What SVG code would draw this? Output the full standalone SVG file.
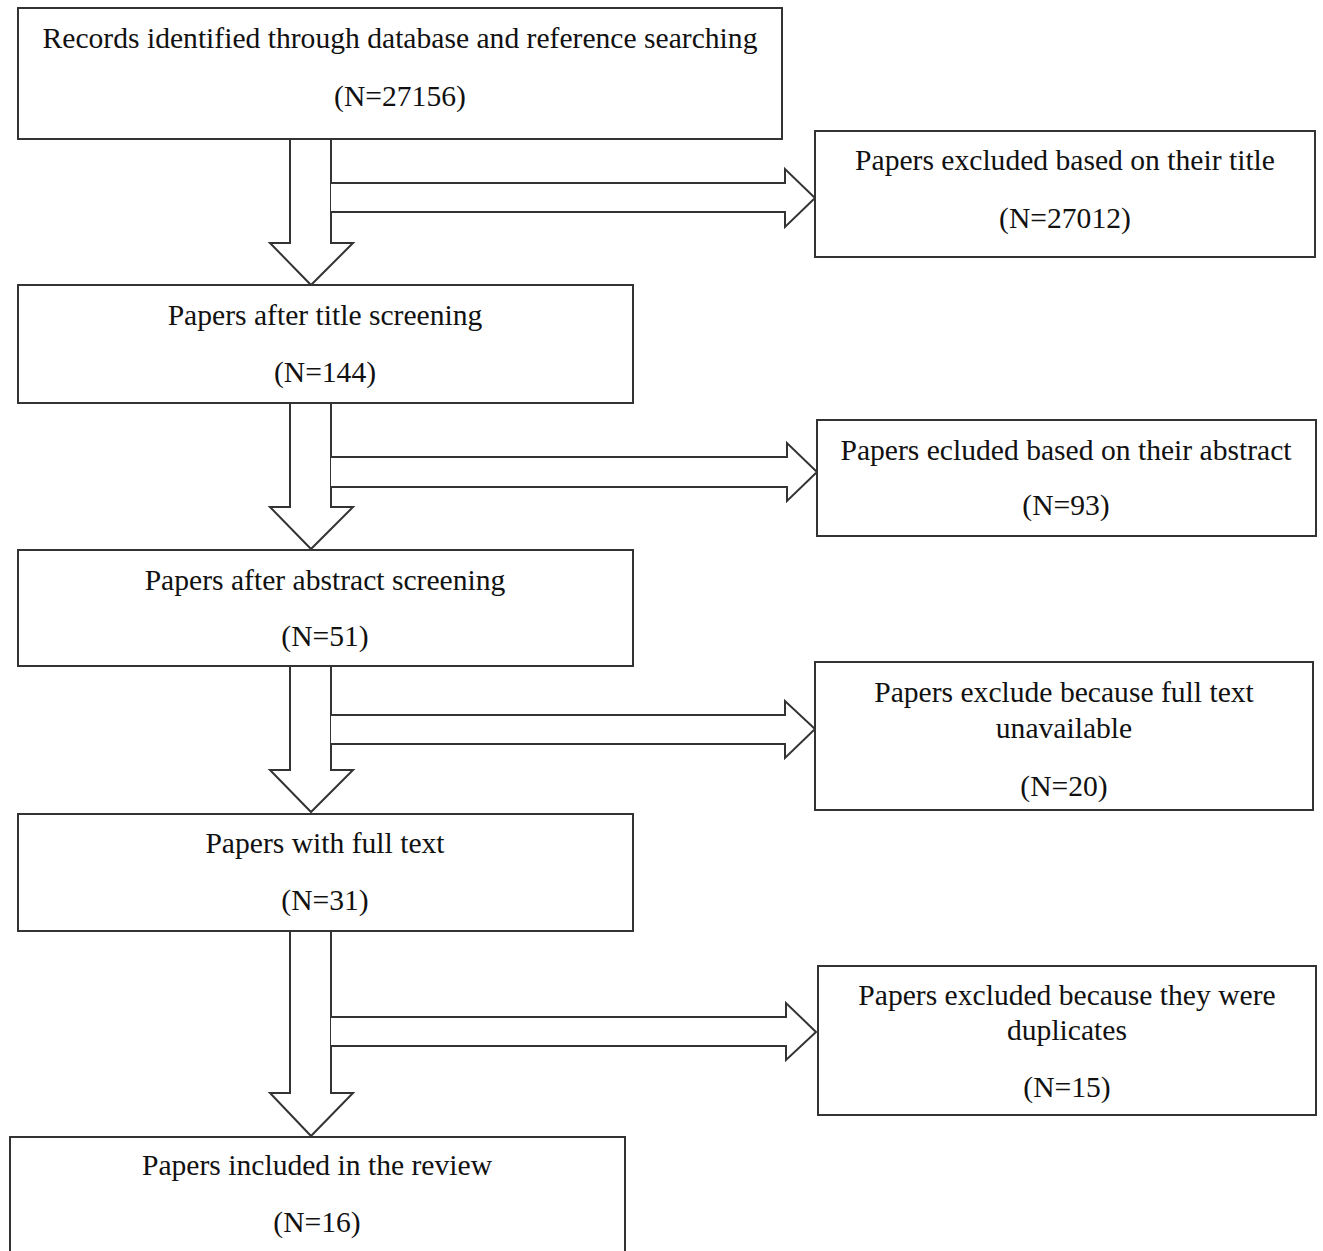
<svg xmlns="http://www.w3.org/2000/svg" width="1323" height="1251" viewBox="0 0 1323 1251">
<style>
.box{fill:#fff;stroke:#333;stroke-width:2}
.arr{fill:#fff;stroke:#333;stroke-width:2;stroke-linejoin:miter}
text{font-family:"Liberation Serif","Times New Roman",serif;font-size:29.6px;fill:#111;text-anchor:middle}
</style>
<rect width="1323" height="1251" fill="#fff"/>
<g id="connectors">
<polygon class="arr" points="290,139 331,139 331,243 353,243 311,285 270,243 290,243"/>
<polyline class="arr" points="331,183 785,183 785,169 815,198 785,227 785,212 331,212"/>
<polygon class="arr" points="290,403 331,403 331,507 353,507 311,549 270,507 290,507"/>
<polyline class="arr" points="331,457 787,457 787,443 817,472 787,501 787,487 331,487"/>
<polygon class="arr" points="290,666 331,666 331,770 353,770 311,812 270,770 290,770"/>
<polyline class="arr" points="331,715 785,715 785,701 815,729 785,758 785,744 331,744"/>
<polygon class="arr" points="290,931 331,931 331,1093 353,1093 311,1136 270,1093 290,1093"/>
<polyline class="arr" points="331,1017 786,1017 786,1003 816,1032 786,1060 786,1046 331,1046"/>
</g>
<g id="n1"><rect class="box" x="18" y="8" width="764" height="131"/>
<text x="400" y="48">Records identified through database and reference searching</text>
<text x="400" y="106">(N=27156)</text></g>
<g id="n2"><rect class="box" x="815" y="131" width="500" height="126"/>
<text x="1065" y="170">Papers excluded based on their title</text>
<text x="1065" y="228">(N=27012)</text></g>
<g id="n3"><rect class="box" x="18" y="285" width="615" height="118"/>
<text x="325" y="325">Papers after title screening</text>
<text x="325" y="382">(N=144)</text></g>
<g id="n4"><rect class="box" x="817" y="420" width="499" height="116"/>
<text x="1066" y="460">Papers ecluded based on their abstract</text>
<text x="1066" y="515">(N=93)</text></g>
<g id="n5"><rect class="box" x="18" y="550" width="615" height="116"/>
<text x="325" y="590">Papers after abstract screening</text>
<text x="325" y="646">(N=51)</text></g>
<g id="n6"><rect class="box" x="815" y="662" width="498" height="148"/>
<text x="1064" y="702">Papers exclude because full text</text>
<text x="1064" y="738">unavailable</text>
<text x="1064" y="796">(N=20)</text></g>
<g id="n7"><rect class="box" x="18" y="814" width="615" height="117"/>
<text x="325" y="853">Papers with full text</text>
<text x="325" y="910">(N=31)</text></g>
<g id="n8"><rect class="box" x="818" y="966" width="498" height="149"/>
<text x="1067" y="1005">Papers excluded because they were</text>
<text x="1067" y="1040">duplicates</text>
<text x="1067" y="1097">(N=15)</text></g>
<g id="n9"><rect class="box" x="10" y="1137" width="615" height="130"/>
<text x="317" y="1175">Papers included in the review</text>
<text x="317" y="1232">(N=16)</text></g>
</svg>
